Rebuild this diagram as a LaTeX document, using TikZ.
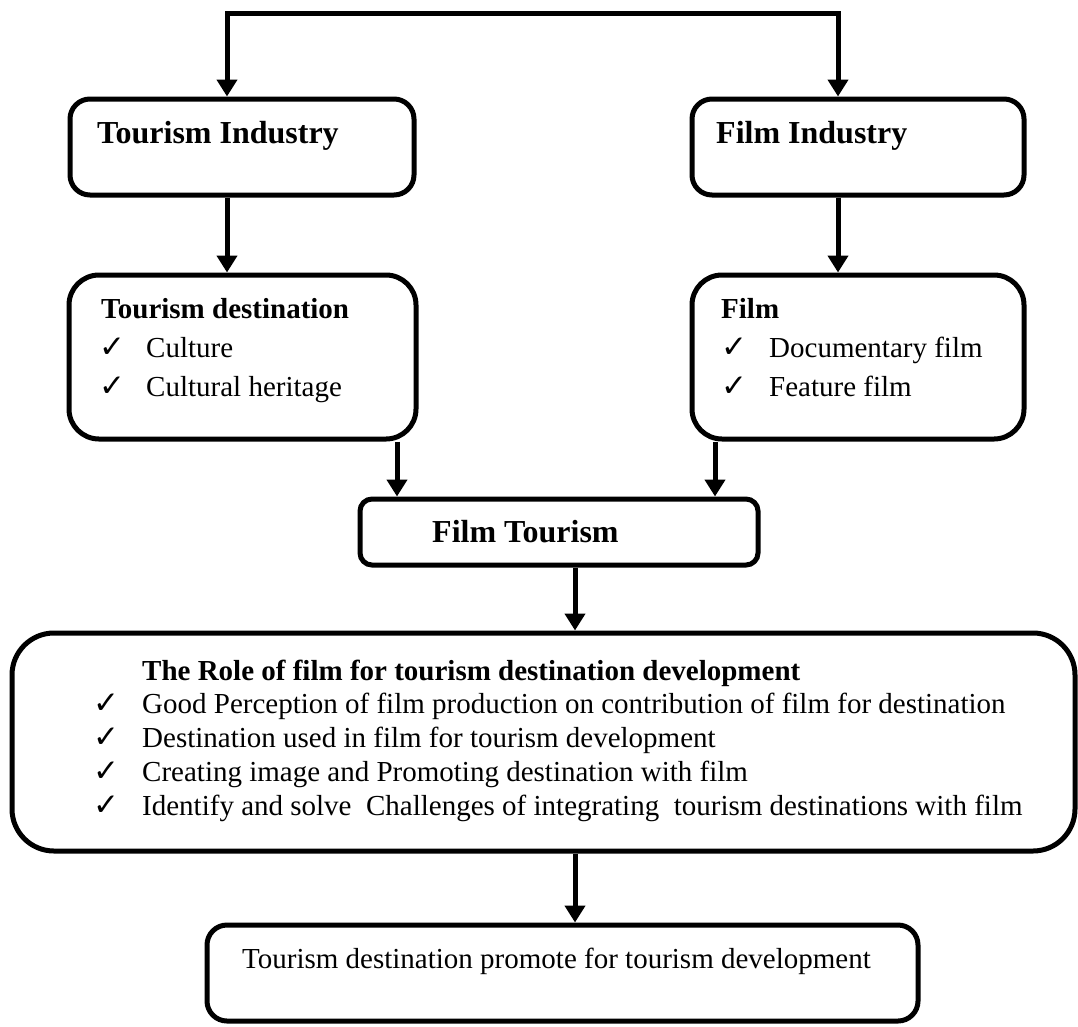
\documentclass[tikz,border=0pt]{standalone}
\usepackage{fontspec}
\setmainfont{Liberation Serif}
\newfontfamily\symfont{DejaVu Sans}
\usetikzlibrary{arrows.meta}
\begin{document}
\begin{tikzpicture}[x=1pt,y=-1pt,
  box/.style={draw, line width=5pt, inner sep=0pt, rounded corners=#1},
  box/.default=20pt,
  txt/.style={anchor=base west, inner sep=0pt, font=\fontsize{29pt}{34pt}\selectfont},
  btxt/.style={anchor=base west, inner sep=0pt, font=\fontsize{29pt}{34pt}\selectfont\bfseries},
  htxt/.style={anchor=base west, inner sep=0pt, font=\fontsize{32pt}{36pt}\selectfont\bfseries},
  chk/.style={anchor=base west, inner sep=0pt, font=\symfont\fontsize{31pt}{34pt}\selectfont},
  arr/.style={line width=5pt, -{Triangle[width=20pt,length=17pt]}},
]
\useasboundingbox (0,0) rectangle (1078,1026);

% boxes
\node[box=20pt, minimum width=344pt, minimum height=96pt] (ti) at (242,147) {};
\node[box=20pt, minimum width=332pt, minimum height=96pt] (fi) at (858,147) {};
\node[box=30pt, minimum width=347pt, minimum height=164pt] (td) at (242.5,357) {};
\node[box=30pt, minimum width=332pt, minimum height=164pt] (fl) at (858,357) {};
\node[box=12pt, minimum width=398pt, minimum height=66pt] (ft) at (559,532) {};
\node[box=42pt, minimum width=1063pt, minimum height=218pt] (role) at (543.5,742) {};
\node[box=20pt, minimum width=711pt, minimum height=96pt] (last) at (562.5,973) {};

% texts
\node[htxt] (tit) at (97,143) {Tourism Industry};
\node[htxt] (fit) at (716,143) {Film Industry};

\node[btxt] (tdt) at (101,318) {Tourism destination};
\node[chk] (tdc1) at (99,357) {✓};
\node[txt] (tdi1) at (146,357) {Culture};
\node[chk] (tdc2) at (99,396) {✓};
\node[txt] (tdi2) at (146,396) {Cultural heritage};

\node[btxt] (flt) at (721,318) {Film};
\node[chk] (flc1) at (721,357) {✓};
\node[txt] (fli1) at (769,357) {Documentary film};
\node[chk] (flc2) at (721,396) {✓};
\node[txt] (fli2) at (769,396) {Feature film};

\node[htxt] (ftt) at (432,542) {Film Tourism};

\node[btxt] (rlt) at (142,680) {The Role of film for tourism destination development};
\node[chk] (rc1) at (93,713) {✓};
\node[txt] (ri1) at (142,713) {Good Perception of film production on contribution of film for destination};
\node[chk] (rc2) at (93,747) {✓};
\node[txt] (ri2) at (142,747) {Destination used in film for tourism development};
\node[chk] (rc3) at (93,781) {✓};
\node[txt] (ri3) at (142,781) {Creating image and Promoting destination with film};
\node[chk] (rc4) at (93,815) {✓};
\node[txt] (ri4) at (142,815) {Identify and solve~ Challenges of integrating~ tourism destinations with film};

\node[txt] (lt) at (242,968) {Tourism destination promote for tourism development};

% connectors
\coordinate (xl) at (227,13);
\coordinate (xr) at (838,13);
\coordinate (xa) at (397,0);
\coordinate (xb) at (715,0);
\coordinate (xc) at (575,0);
\draw[line width=5pt, line join=miter, {Triangle[width=20pt,length=17pt]}-{Triangle[width=20pt,length=17pt]}]
  (ti.north -| xl) -- (xl) -- (xr) -- (fi.north -| xr);
\draw[arr] (ti.south -| xl) -- (td.north -| xl);
\draw[arr] (fi.south -| xr) -- (fl.north -| xr);
\draw[arr] (td.south -| xa) -- (ft.north -| xa);
\draw[arr] (fl.south -| xb) -- (ft.north -| xb);
\draw[arr] (ft.south -| xc) -- (role.north -| xc);
\draw[arr] (role.south -| xc) -- (last.north -| xc);
\end{tikzpicture}
\end{document}
